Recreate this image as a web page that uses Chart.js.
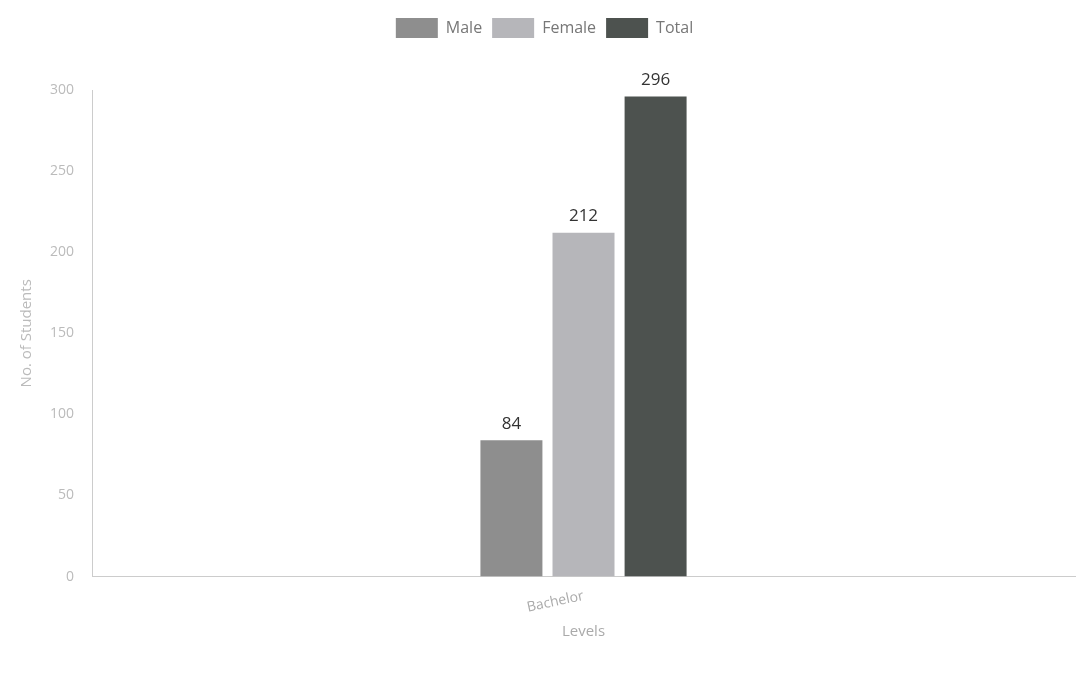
<!DOCTYPE html>
<html>
<head>
<meta charset="utf-8">
<script src="https://cdn.jsdelivr.net/npm/chart.js@4/dist/chart.umd.min.js"></script>
<style>
  html, body { margin: 0; padding: 0; background: #fff; }
  #wrap { width: 1079px; height: 695px; }
</style>
</head>
<body>
<div id="wrap"><canvas id="chart"></canvas></div>
<script>
const categories = ['Bachelor'];
const maleValues = [84];
const femaleValues = [212];
const totalValues = [296];
const seriesNames = ['Male', 'Female', 'Total'];

// draws the number above each bar
const valueLabels = {
    id: 'valueLabels',
    afterDatasetsDraw(chart) {
        const ctx = chart.ctx;
        ctx.save();
        ctx.font = '17px "Open Sans"';
        ctx.fillStyle = '#333';
        ctx.textAlign = 'center';
        ctx.textBaseline = 'bottom';
        chart.data.datasets.forEach((ds, i) => {
            chart.getDatasetMeta(i).data.forEach((bar, j) => {
                ctx.fillText(ds.data[j], bar.x, bar.y - 8);
            });
        });
        ctx.restore();
    }
};

// extra room under the legend
const legendGap = {
    id: 'legendGap',
    beforeInit(chart) {
        const fit = chart.legend.fit;
        chart.legend.fit = function () {
            fit.bind(chart.legend)();
            this.height += 42;
        };
    }
};

const ctx = document.getElementById('chart');
new Chart(ctx, {
    type: 'bar',
    data: {
        labels: categories,
        datasets: [
            { label: seriesNames[0], data: maleValues, backgroundColor: '#8e8e8e' },
            { label: seriesNames[1], data: femaleValues, backgroundColor: '#b6b6ba' },
            { label: seriesNames[2], data: totalValues, backgroundColor: '#4d524f' }
        ]
    },
    options: {
        responsive: true,
        maintainAspectRatio: false,
        animation: false,
        categoryPercentage: 0.22,
        barPercentage: 0.86,
        layout: { padding: { left: 14, right: 4, top: 8, bottom: 50 } },
        plugins: {
            legend: {
                display: true,
                position: 'top',
                labels: {
                    boxWidth: 42,
                    boxHeight: 20,
                    padding: 10,
                    color: '#777',
                    font: { family: 'Open Sans', size: 16 }
                }
            },
            tooltip: { enabled: false }
        },
        scales: {
            x: {
                grid: { display: false },
                border: { color: '#ccc' },
                ticks: {
                    color: '#aaa',
                    minRotation: 12,
                    maxRotation: 12,
                    font: { family: 'Open Sans', size: 14 }
                },
                title: {
                    display: true,
                    text: 'Levels',
                    color: '#aaa',
                    font: { family: 'Open Sans', size: 15 }
                }
            },
            y: {
                beginAtZero: true,
                max: 300,
                grid: { display: false },
                border: { color: '#ccc' },
                ticks: {
                    stepSize: 50,
                    color: '#bbb',
                    padding: 10,
                    font: { family: 'Open Sans', size: 14 }
                },
                title: {
                    display: true,
                    text: 'No. of Students',
                    color: '#bbb',
                    font: { family: 'Open Sans', size: 15 }
                }
            }
        }
    },
    plugins: [valueLabels, legendGap]
});
</script>
</body>
</html>
